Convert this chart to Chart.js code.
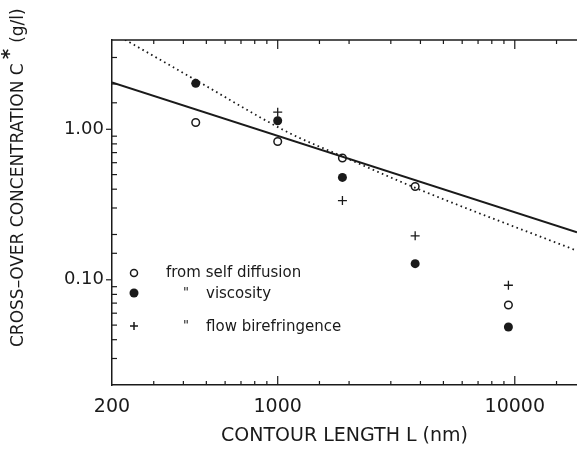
<!DOCTYPE html>
<html>
<head>
<meta charset="utf-8">
<script src="https://cdn.jsdelivr.net/npm/chart.js@4"></script>
<style>
  body { margin: 0; background: #fff; }
  #wrap { width: 577px; height: 449px; }
</style>
</head>
<body>
<div id="wrap"><canvas id="c" width="577" height="449"></canvas></div>
<script>
// contour lengths (nm) and cross-over concentrations (g/l)
const lengths = [451, 1000, 1875, 3800, 9400];
const selfDiffusion = [1.11, 0.83, 0.644, 0.417, 0.068];
const viscosity = [2.02, 1.14, 0.479, 0.128, 0.0486];
const birefLengths = [1000, 1875, 3800, 9400];
const birefringence = [1.30, 0.336, 0.196, 0.092];

// solid power-law line (ends) and dotted curve
const solidLengths = [200, 18300];
const solidFit = [2.05, 0.207];
const dottedLengths = [227, 452, 1127, 1833, 3990, 18300];
const dottedFit = [3.94, 2.12, 0.94, 0.671, 0.396, 0.156];

const xLabels = [200, 1000, 10000];
const yLabels = [0.1, 1];

const ink = '#1a1a1a';
const fontFamily = '"DejaVu Sans", sans-serif';

const pts = (xs, ys) => xs.map((x, i) => ({ x: x, y: ys[i] }));

// tick marks, top border, legend and y title
const decorations = {
  id: 'decorations',
  afterDraw(chart) {
    const ctx = chart.ctx;
    const area = chart.chartArea;
    const xs = chart.scales.x;
    const ys = chart.scales.y;
    ctx.save();
    ctx.strokeStyle = ink;
    ctx.lineWidth = 1.5;
    ctx.beginPath();
    ctx.moveTo(area.left, area.top);
    ctx.lineTo(area.right, area.top);
    ctx.stroke();

    ctx.lineWidth = 1.2;
    xs.ticks.forEach(t => {
      const px = xs.getPixelForValue(t.value);
      if (px <= area.left + 1 || px >= area.right - 1) return;
      const major = xLabels.includes(t.value);
      const len = major ? 9 : 4;
      ctx.beginPath();
      ctx.moveTo(px, area.bottom);
      ctx.lineTo(px, area.bottom - len);
      ctx.moveTo(px, area.top);
      ctx.lineTo(px, area.top + len);
      ctx.stroke();
    });
    ys.ticks.forEach(t => {
      const py = ys.getPixelForValue(t.value);
      if (py <= area.top + 1 || py >= area.bottom - 1) return;
      const major = yLabels.some(v => Math.abs(v - t.value) < 1e-9);
      ctx.beginPath();
      if (major) {
        ctx.moveTo(area.left - 6, py);
        ctx.lineTo(area.left, py);
      } else {
        ctx.moveTo(area.left, py);
        ctx.lineTo(area.left + 5, py);
      }
      ctx.stroke();
    });

    // legend
    const mx = 134;
    ctx.fillStyle = ink;
    ctx.lineWidth = 1.5;
    ctx.beginPath();
    ctx.arc(mx, 273, 3.5, 0, Math.PI * 2);
    ctx.stroke();
    ctx.beginPath();
    ctx.arc(mx, 293, 4.5, 0, Math.PI * 2);
    ctx.fill();
    ctx.beginPath();
    ctx.moveTo(mx - 4, 326); ctx.lineTo(mx + 4, 326);
    ctx.moveTo(mx, 322); ctx.lineTo(mx, 330);
    ctx.stroke();

    ctx.font = '15px ' + fontFamily;
    ctx.textBaseline = 'middle';
    ctx.textAlign = 'left';
    ctx.fillText('from self diffusion', 166, 273);
    ctx.fillText('viscosity', 206, 294);
    ctx.fillText('flow birefringence', 206, 327);
    ctx.font = '13px ' + fontFamily;
    ctx.fillText('"', 183, 293);
    ctx.fillText('"', 183, 326);

    // y axis title with superscript star
    ctx.translate(19, 347);
    ctx.rotate(-Math.PI / 2);
    ctx.font = '17px ' + fontFamily;
    ctx.textAlign = 'left';
    const main = 'CROSS\u2013OVER CONCENTRATION C';
    ctx.fillText(main, 0, 0);
    let w = ctx.measureText(main).width + 4;
    ctx.font = 'bold 20px ' + fontFamily;
    ctx.fillText('*', w, -9);
    w += ctx.measureText('*').width + 6;
    ctx.font = '17px ' + fontFamily;
    ctx.fillText('(g/l)', w, 0);
    ctx.restore();
  }
};

new Chart(document.getElementById('c'), {
  type: 'scatter',
  data: {
    datasets: [
      {
        label: 'fit solid',
        data: pts(solidLengths, solidFit),
        showLine: true,
        borderColor: ink,
        borderWidth: 2,
        pointRadius: 0
      },
      {
        label: 'fit dotted',
        data: pts(dottedLengths, dottedFit),
        showLine: true,
        cubicInterpolationMode: 'monotone',
        borderColor: ink,
        borderWidth: 1.8,
        borderDash: [1.6, 3.4],
        pointRadius: 0
      },
      {
        label: 'from self diffusion',
        data: pts(lengths, selfDiffusion),
        pointStyle: 'circle',
        pointRadius: 3.8,
        borderWidth: 1.5,
        borderColor: ink,
        backgroundColor: '#fff'
      },
      {
        label: 'viscosity',
        data: pts(lengths, viscosity),
        pointStyle: 'circle',
        pointRadius: 4.5,
        borderWidth: 0,
        borderColor: ink,
        backgroundColor: ink
      },
      {
        label: 'flow birefringence',
        data: pts(birefLengths, birefringence),
        pointStyle: 'cross',
        pointRadius: 4.5,
        borderWidth: 1.3,
        borderColor: ink
      }
    ]
  },
  options: {
    responsive: false,
    animation: false,
    layout: { autoPadding: false, padding: { top: 40, right: 0, left: 0, bottom: 0 } },
    plugins: {
      legend: { display: false },
      tooltip: { enabled: false }
    },
    scales: {
      x: {
        type: 'logarithmic',
        min: 200,
        max: 18300,
        afterFit: s => { s.height = 64; s.paddingRight = 0; s.paddingLeft = 0; },
        grid: { display: false, drawTicks: false },
        border: { display: true, color: ink, width: 1.5 },
        ticks: {
          autoSkip: false,
          maxRotation: 0,
          padding: 11,
          color: ink,
          font: { family: fontFamily, size: 19 },
          callback: v => xLabels.includes(v) ? String(v) : ''
        },
        title: {
          display: true,
          text: 'CONTOUR LENGTH L (nm)',
          color: ink,
          font: { family: fontFamily, size: 19 },
          padding: { top: 0, bottom: 2 }
        }
      },
      y: {
        type: 'logarithmic',
        min: 0.02,
        max: 3.92,
        afterFit: s => { s.width = 112; },
        grid: { display: false, drawTicks: false },
        border: { display: true, color: ink, width: 1.5 },
        ticks: {
          autoSkip: false,
          padding: 8,
          color: ink,
          font: { family: fontFamily, size: 18 },
          callback: v => yLabels.some(l => Math.abs(l - v) < 1e-9) ? v.toFixed(2) : ''
        }
      }
    }
  },
  plugins: [decorations]
});
</script>
</body>
</html>
